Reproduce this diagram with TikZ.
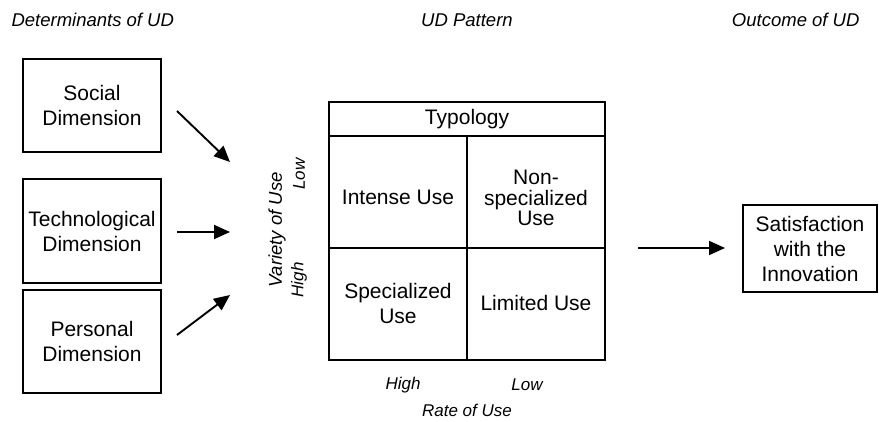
\documentclass[tikz,border=0pt]{standalone}
\usepackage{fontspec}
\setmainfont{Liberation Sans}
\usetikzlibrary{arrows.meta,calc}
\begin{document}
\begin{tikzpicture}[x=1pt,y=-1pt,
  box/.style={draw,line width=1.3pt,align=center,inner sep=0pt,font=\fontsize{21}{25}\selectfont},
  cell/.style={align=center,inner sep=0pt,font=\fontsize{21}{25}\selectfont},
  hdr/.style={font=\fontsize{18.5}{22}\selectfont\itshape},
  axis/.style={font=\fontsize{17}{20}\selectfont\itshape},
  arr/.style={line width=1.9pt,-{Triangle[length=16pt,width=14pt]}}]
\useasboundingbox (0,0) rectangle (879,422);
% headers
\node[hdr,anchor=west] (h1) at (8,20) {Determinants of UD};
\node[hdr] (h2) at (467,20) {UD Pattern};
\node[hdr,anchor=east] (h3) at (863,20) {Outcome of UD};
% left boxes
\node[box,minimum width=138pt,minimum height=93pt] (soc) at (92,105.5) {Social\\Dimension};
\node[box,minimum width=138pt,minimum height=104pt] (tec) at (92,231) {Technological\\Dimension};
\node[box,minimum width=138pt,minimum height=103pt] (per) at (92,341.5) {Personal\\Dimension};
% arrows in
\coordinate (s1) at (177,111);
\coordinate (s2) at (230,162);
\coordinate (t1) at (177,232);
\coordinate (t2) at (230,232);
\coordinate (p1) at (177,335);
\coordinate (p2) at (230,295);
\draw[arr] (s1) -- (s2);
\draw[arr] (t1) -- (t2);
\draw[arr] (p1) -- (p2);
% matrix
\node[box,minimum width=276pt,minimum height=34pt] (typ) at (467,119) {Typology};
\node[box,minimum width=138pt,minimum height=112pt] (tl) at (398,192) {};
\node[box,minimum width=138pt,minimum height=112pt] (tr) at (536,192) {};
\node[box,minimum width=138pt,minimum height=112pt] (bl) at (398,304) {};
\node[box,minimum width=138pt,minimum height=112pt] (br) at (536,304) {};
\node[cell] (tlt) at ($(tl.center)+(0,5)$) {Intense Use};
\node[cell,font=\fontsize{21}{20.5}\selectfont] (trt) at ($(tr.center)+(0,6)$) {Non-\\specialized\\Use};
\node[cell] (blt) at ($(bl.center)+(0,-1)$) {Specialized\\Use};
\node[cell] (brt) at ($(br.center)+(0,-1)$) {Limited Use};
% axis labels
\node[axis,rotate=90,font=\fontsize{18.5}{22}\selectfont\itshape] (vou) at (277,230) {Variety of Use};
\node[axis,rotate=90] (vlow) at (299,174) {Low};
\node[axis,rotate=90] (vhigh) at (299,280) {High};
\node[axis] (rhigh) at (403,385) {High};
\node[axis] (rlow) at (527,385) {Low};
\node[axis] (rou) at (467,410) {Rate of Use};
% outcome
\node[box,minimum width=134pt,minimum height=87pt] (sat) at (810,248.5) {Satisfaction\\with the\\Innovation};
\coordinate (o1) at (638,248);
\coordinate (o2) at (725,248);
\draw[arr] (o1) -- (o2);
\end{tikzpicture}
\end{document}
